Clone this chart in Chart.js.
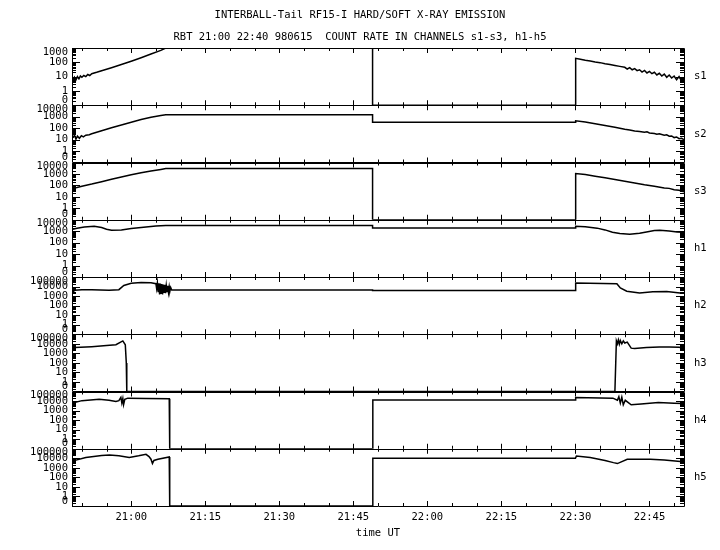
<!DOCTYPE html>
<html>
<head>
<meta charset="utf-8">
<script src="https://cdn.jsdelivr.net/npm/chart.js@4.4.0/dist/chart.umd.min.js"></script>
<style>
  html, body { margin: 0; padding: 0; background: #fff; }
  #wrap { width: 720px; height: 550px; }
</style>
</head>
<body>
<div id="wrap"><canvas id="chart" width="720" height="550"></canvas></div>
<script>
// ================================
// Datos (tiempo en minutos del dia, 1260 = 21:00)
// ================================
const titleLines = [
  "INTERBALL-Tail RF15-I HARD/SOFT X-RAY EMISSION",
  "RBT 21:00 22:40 980615  COUNT RATE IN CHANNELS s1-s3, h1-h5"
];
const tMin = 1248;   // 20:48
const tMax = 1372;   // 22:52
const timeLabels = [1260, 1275, 1290, 1305, 1320, 1335, 1350, 1365];

const channels = ["s1", "s2", "s3", "h1", "h2", "h3", "h4", "h5"];
const channelMax = [1000, 10000, 10000, 10000, 100000, 100000, 100000, 100000];
const yFloor = 0.1;  // etiqueta "0"

// [minuto, cuentas]
const s1 = [[1248.2,5],[1248.5,9],[1248.8,6],[1249.1,10],[1249.4,7],[1249.7,11],[1250.0,9],[1250.4,12],
  [1250.8,10],[1251.2,14],[1251.6,12],[1252.0,16],[1253,20],[1254,26],[1256,42],[1258,70],[1260,120],
  [1262,210],[1264,380],[1266,680],[1267,1000],[1308.9,1000],[1308.9,0],[1350,0],[1350.05,190],
  [1351,165],[1352,140],[1353,125],[1354,105],[1355,95],[1356,80],[1357,70],[1358,60],[1359,52],
  [1360,45],[1360.5,34],[1361,42],[1361.5,30],[1362,36],[1362.5,26],[1363,30],[1363.5,21],[1364,27],
  [1364.5,18],[1365,23],[1365.5,16],[1366,20],[1366.5,13],[1367,17],[1367.5,11],[1368,15],[1368.5,9],
  [1369,13],[1369.5,8],[1370,11],[1370.5,6],[1371,10],[1371.5,5],[1372,8]];
const s2 = [[1248.2,14],[1248.5,24],[1248.8,11],[1249.1,20],[1249.5,13],[1249.9,22],[1250.3,17],
  [1250.8,24],[1251.5,27],[1252,32],[1254,60],[1256,110],[1258,190],[1260,330],[1262,560],[1264,900],
  [1266,1300],[1267,1500],[1308.9,1500],[1308.9,320],[1350,320],[1350.05,440],[1352,350],[1354,240],
  [1356,170],[1358,120],[1360,80],[1361,70],[1362,56],[1363,52],[1364,44],[1364.5,48],[1365,38],
  [1366,34],[1366.5,30],[1367,32],[1368,24],[1368.5,26],[1369,20],[1369.5,21],[1370,15],[1370.5,17],
  [1371,12],[1371.5,13],[1372,10]];
const s3 = [[1248.2,55],[1249,65],[1250,85],[1252,130],[1254,210],[1256,340],[1258,540],[1260,850],
  [1262,1250],[1264,1800],[1266,2500],[1267,3000],[1308.9,3000],[1308.9,0],[1350,0],[1350.05,1100],
  [1352,880],[1354,640],[1356,460],[1358,330],[1360,230],[1362,165],[1364,115],[1366,85],[1368,60],
  [1369,55],[1370,42],[1371,38],[1372,28]];
const h1 = [[1248.2,1500],[1249,1800],[1250.5,2300],[1252.5,2650],[1254,2100],[1255,1500],[1256,1200],
  [1258,1300],[1260,1700],[1263,2300],[1265,2800],[1267,3200],[1308.9,3200],[1308.9,1900],[1350,1900],
  [1350.05,2650],[1352,2450],[1354.4,1850],[1356,1300],[1357.5,800],[1359,620],[1361,540],[1363,650],
  [1364.4,850],[1366,1150],[1367.1,1200],[1369,1050],[1370.6,850],[1372,800]];
const h2 = [[1248.2,2500],[1248.5,4000],[1250,4700],[1252,4500],[1255.5,4000],[1257.5,4700],
  [1258.5,13000],[1260,22000],[1262,27000],[1264,25000],[1265,20000],[1265.15,6000],[1265.3,24000],
  [1265.45,3000],[1265.6,22000],[1265.75,1500],[1265.9,20000],[1266.05,2000],[1266.2,18000],
  [1266.35,1500],[1266.5,16000],[1266.65,2500],[1266.8,15000],[1266.95,2000],[1267.1,13000],
  [1267.25,3000],[1267.4,12000],[1267.55,2500],[1267.7,10000],[1267.85,3500],[1268,8000],
  [1268.2,4400],[1308.9,4400],[1308.9,3900],[1350,3900],[1350.05,23000],[1358.4,20000],[1359.1,7000],
  [1360.4,3200],[1363,2100],[1365.7,2900],[1368.5,3000],[1371.2,2100],[1372,2100]];
const h3 = [[1248.2,1800],[1248.6,4000],[1252,5000],[1255,6500],[1256.9,8000],[1258.3,20000],
  [1258.8,8000],[1259.0,100],[1259.1,0],[1358.0,0],[1358.3,20000],[1358.5,10000],[1358.7,25000],
  [1358.9,9000],[1359.1,22000],[1359.4,10000],[1359.7,20000],[1360.0,12000],[1360.5,15000],
  [1361.3,3500],[1362,3200],[1364.4,4100],[1367,4500],[1369,4600],[1371,4300],[1372,3500]];
const h4 = [[1248.2,3500],[1248.5,7000],[1250,11000],[1253.5,15800],[1255.5,12000],[1256.9,9000],
  [1257.5,11000],[1257.9,24000],[1258.1,6000],[1258.3,18000],[1258.45,4100],[1258.7,15000],
  [1259.3,20000],[1263,19000],[1267.7,17000],[1267.8,0],[1308.9,0],[1308.95,13000],[1350,13000],
  [1350.05,23000],[1357.6,20000],[1358.5,12000],[1358.8,28000],[1359.1,6000],[1359.4,25000],
  [1359.7,4000],[1360.1,12000],[1361.3,4000],[1363.3,5000],[1366.8,7000],[1370,6000],[1372,5500]];
const h5 = [[1248.2,4000],[1248.6,6100],[1250.8,12000],[1254,20000],[1255.6,22000],[1257.5,18000],
  [1259.6,12000],[1261.5,18000],[1263,26000],[1263.6,15000],[1264,8000],[1264.3,2800],[1264.6,6000],
  [1265.4,8000],[1267.7,14000],[1267.8,0],[1308.9,0],[1308.95,10000],[1350,10000],[1350.2,17000],
  [1353,12000],[1356,6000],[1357.7,3500],[1358.5,2800],[1360.5,8000],[1365.2,8000],[1368,6500],
  [1371.3,4500],[1372,4200]];
const series = [s1, s2, s3, h1, h2, h3, h4, h5];

const FONT = "'DejaVu Sans Mono', monospace";
const FSIZE = 10.5;

function fmtTime(v) {
  return Math.floor(v / 60) + ":" + String(Math.round(v % 60)).padStart(2, "0");
}

// ================================
// Marcos, marcas y etiquetas de cada panel
// ================================
const panelFrames = {
  id: "panelFrames",
  afterDatasetsDraw(chart) {
    const ctx = chart.ctx;
    const xs = chart.scales.x;
    const area = chart.chartArea;
    const px = v => Math.round(v) + 0.5;
    ctx.save();
    ctx.strokeStyle = "#000";
    ctx.fillStyle = "#000";
    ctx.lineWidth = 1;
    channels.forEach((name, i) => {
      const ys = chart.scales["y" + i];
      const top = ys.top, bottom = ys.bottom;
      ctx.beginPath();
      ctx.rect(px(area.left), px(top), Math.round(area.right - area.left), Math.round(bottom - top));
      // marcas de tiempo cada 5 min
      for (let t = 1250; t < tMax; t += 5) {
        const x = px(xs.getPixelForValue(t));
        const len = t % 15 === 0 ? 5 : 3;
        ctx.moveTo(x, bottom); ctx.lineTo(x, bottom - len);
        ctx.moveTo(x, top); ctx.lineTo(x, top + len);
      }
      // marcas logaritmicas a ambos lados
      for (let e = -1; Math.pow(10, e) <= channelMax[i]; e++) {
        for (let k = 1; k <= 9; k++) {
          const v = k * Math.pow(10, e);
          if (v > channelMax[i] * 1.0001) break;
          const y = px(ys.getPixelForValue(v));
          const len = k === 1 ? 8 : 4;
          ctx.moveTo(area.left, y); ctx.lineTo(area.left + len, y);
          ctx.moveTo(area.right, y); ctx.lineTo(area.right - len, y);
        }
      }
      ctx.stroke();

      // etiquetas del eje y
      ctx.font = FSIZE + "px " + FONT;
      ctx.textAlign = "right";
      ctx.textBaseline = "middle";
      for (let v = yFloor; v <= channelMax[i] * 1.0001; v *= 10) {
        let y = ys.getPixelForValue(v);
        y = Math.min(Math.max(y, top + 4), bottom - 5);
        ctx.fillText(v < 1 ? "0" : String(Math.round(v)), area.left - 4, y);
      }
      // nombre del canal
      ctx.textAlign = "left";
      ctx.fillText(name, area.right + 10, (top + bottom) / 2);
    });
    ctx.restore();
  }
};

// ================================
// Escalas
// ================================
const scales = {
  x: {
    type: "linear",
    min: tMin,
    max: tMax,
    grid: { display: false, drawTicks: false },
    border: { display: false },
    afterBuildTicks: s => { s.ticks = timeLabels.map(v => ({ value: v })); },
    ticks: {
      padding: 6, maxRotation: 0, minRotation: 0, color: "#000",
      font: { family: FONT, size: FSIZE, lineHeight: 1 },
      callback: v => fmtTime(v)
    },
    title: {
      display: true, text: "time UT", color: "#000",
      font: { family: FONT, size: FSIZE, lineHeight: 1 },
      padding: { top: 0, bottom: 0 }
    }
  },
  // hueco a la derecha para los nombres de canal
  yr: {
    type: "linear",
    position: "right",
    display: true,
    grid: { display: false, drawTicks: false },
    border: { display: false },
    ticks: { display: false },
    afterFit: s => { s.width = 36; }
  }
};
channels.forEach((name, i) => {
  scales["y" + i] = {
    type: "logarithmic",
    position: "left",
    stack: "panels",
    stackWeight: 1,
    weight: channels.length - i,
    min: yFloor,
    max: channelMax[i],
    grid: { display: false, drawTicks: false },
    border: { display: false },
    ticks: { display: false },
    afterFit: s => { s.width = 72; }
  };
});

// ================================
// Grafica
// ================================
new Chart(document.getElementById("chart").getContext("2d"), {
  type: "line",
  data: {
    datasets: series.map((pts, i) => ({
      label: channels[i],
      data: pts.map(([t, v]) => ({ x: t, y: Math.max(v, yFloor) })),
      xAxisID: "x",
      yAxisID: "y" + i,
      borderColor: "#000",
      borderWidth: 1.5,
      pointRadius: 0,
      fill: false,
      tension: 0
    }))
  },
  options: {
    responsive: false,
    animation: false,
    devicePixelRatio: 1,
    layout: { padding: { top: 0, right: 0, bottom: 11, left: 0 } },
    scales,
    plugins: {
      legend: { display: false },
      tooltip: { enabled: false },
      title: {
        display: true,
        text: titleLines,
        color: "#000",
        font: { family: FONT, size: FSIZE, weight: "normal", lineHeight: 22 / FSIZE },
        padding: { top: 4, bottom: 0 }
      }
    }
  },
  plugins: [panelFrames]
});
</script>
</body>
</html>
